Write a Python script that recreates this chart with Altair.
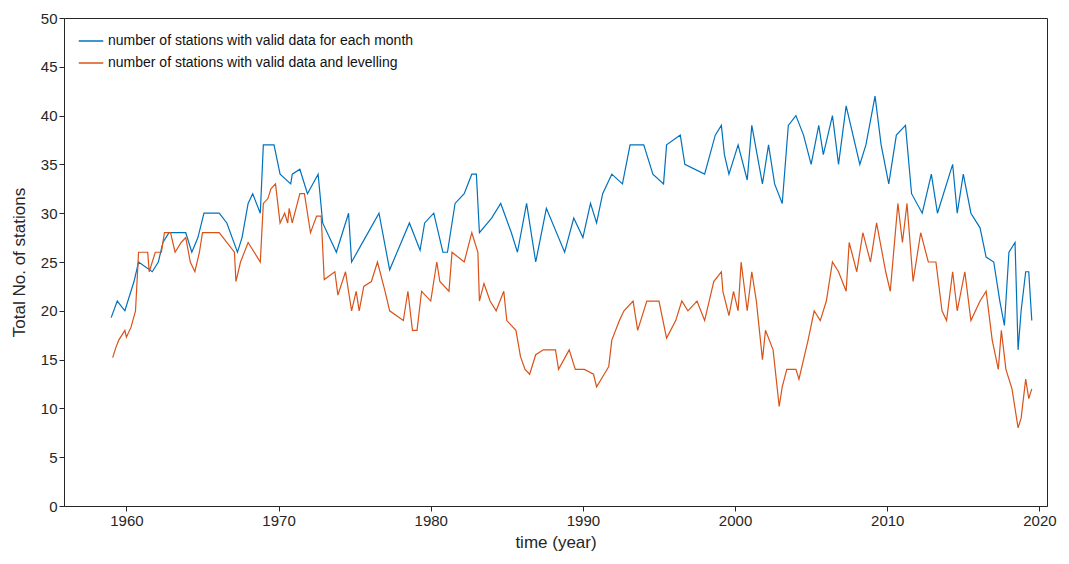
import altair as alt
import pandas as pd

# estimated readings: (year, number of stations)
blue_years = [1959.0, 1959.4, 1959.9, 1960.5, 1960.8, 1961.7, 1962.1, 1962.4, 1962.8, 1963.9,
              1964.3, 1964.7, 1965.1, 1966.1, 1966.6, 1967.3, 1967.6, 1968.0, 1968.3, 1968.8,
              1969.0, 1969.7, 1970.1, 1970.8, 1970.9, 1971.4, 1971.9, 1972.6, 1972.9, 1973.8,
              1974.6, 1974.8, 1975.7, 1976.6, 1977.3, 1978.6, 1979.3, 1979.6, 1980.2, 1980.8,
              1981.1, 1981.6, 1982.2, 1982.7, 1983.0, 1983.2, 1984.0, 1984.6, 1985.3, 1985.7,
              1986.3, 1986.9, 1987.6, 1988.8, 1989.4, 1990.0, 1990.5, 1990.9, 1991.3, 1991.9,
              1992.6, 1993.1, 1994.0, 1994.6, 1995.3, 1995.5, 1996.4, 1996.7, 1998.0, 1998.7,
              1999.1, 1999.3, 1999.6, 2000.2, 2000.8, 2001.1, 2001.8, 2002.2, 2002.6, 2003.1,
              2003.5, 2004.0, 2004.5, 2005.0, 2005.5, 2005.8, 2006.4, 2006.8, 2007.3, 2007.6,
              2008.2, 2008.6, 2009.2, 2009.6, 2010.1, 2010.6, 2011.2, 2011.6, 2012.3, 2012.9,
              2013.3, 2014.3, 2014.6, 2015.0, 2015.5, 2016.1, 2016.5, 2017.0, 2017.4, 2017.7,
              2018.0, 2018.4, 2018.6, 2018.8, 2019.1, 2019.3, 2019.5]
blue_vals = [19.3, 21, 20, 23, 25, 24, 25, 27, 28, 28,
             26, 27.5, 30, 30, 29, 26, 27.5, 31, 32, 30,
             37, 37, 34, 33, 34, 34.5, 32, 34, 29, 26,
             30, 25, 27.5, 30, 24.2, 29, 26.2, 29, 30, 26,
             26, 31, 32, 34, 34, 28, 29.5, 31, 28, 26,
             31, 25, 30.5, 26, 29.5, 27.5, 31, 29, 32, 34,
             33, 37, 37, 34, 33, 37, 38, 35, 34, 38,
             39, 36, 34, 37, 33.4, 39, 33, 37, 33, 31,
             39, 40, 38, 35, 39, 36, 40, 35, 41, 39,
             35, 37, 42, 37, 33, 38, 39, 32, 30, 34,
             30, 35, 30, 34, 30, 28.5, 25.5, 25, 21, 18.5,
             26, 27, 16, 20, 24, 24, 19]

orange_years = [1959.1, 1959.3, 1959.5, 1959.9, 1960.0, 1960.3, 1960.6, 1960.8, 1961.4, 1961.5,
                1961.9, 1962.3, 1962.5, 1962.9, 1963.2, 1963.6, 1963.9, 1964.2, 1964.5, 1964.8,
                1965.0, 1966.1, 1966.6, 1967.1, 1967.2, 1967.5, 1968.0, 1968.8, 1969.0, 1969.3,
                1969.5, 1969.8, 1970.1, 1970.4, 1970.6, 1970.7, 1970.9, 1971.4, 1971.7, 1972.1,
                1972.5, 1972.8, 1973.0, 1973.7, 1973.9, 1974.4, 1974.8, 1975.1, 1975.3, 1975.6,
                1976.1, 1976.5, 1977.0, 1977.3, 1978.2, 1978.5, 1978.8, 1979.1, 1979.4, 1980.0,
                1980.4, 1980.6, 1981.2, 1981.4, 1982.2, 1982.7, 1983.1, 1983.2, 1983.5, 1983.9,
                1984.3, 1984.8, 1985.0, 1985.6, 1985.9, 1986.2, 1986.5, 1986.9, 1987.4, 1988.2,
                1988.4, 1989.1, 1989.5, 1990.1, 1990.7, 1990.9, 1991.4, 1991.7, 1991.9, 1992.4,
                1992.7, 1993.3, 1993.6, 1994.2, 1995.0, 1995.5, 1996.1, 1996.5, 1996.9, 1997.5,
                1998.0, 1998.6, 1999.1, 1999.2, 1999.6, 1999.9, 2000.2, 2000.4, 2000.8, 2001.1,
                2001.4, 2001.6, 2001.8, 2002.0, 2002.5, 2002.9, 2003.1, 2003.4, 2004.0, 2004.2,
                2004.8, 2005.2, 2005.6, 2006.0, 2006.4, 2006.8, 2007.3, 2007.5, 2008.0, 2008.4,
                2008.9, 2009.3, 2009.9, 2010.2, 2010.7, 2011.0, 2011.3, 2011.7, 2012.2, 2012.7,
                2013.2, 2013.6, 2013.9, 2014.3, 2014.6, 2015.1, 2015.5, 2016.1, 2016.5, 2016.9,
                2017.3, 2017.5, 2017.8, 2018.2, 2018.6, 2018.8, 2019.1, 2019.3, 2019.5]
orange_vals = [15.2, 16.2, 17, 18, 17.3, 18.3, 20, 26, 26, 24,
               26, 26, 28, 28, 26, 27, 27.5, 25, 24, 26,
               28, 28, 27, 26, 23, 25, 27, 25, 31, 31.5,
               32.5, 33, 29, 30, 29, 30.5, 29, 32, 32, 28,
               29.7, 29.7, 23.2, 24, 21.6, 24, 20, 22, 20, 22.5,
               23, 25, 22, 20, 19, 22, 18, 18, 22, 21,
               25, 23, 22, 26, 25, 28, 26, 21, 22.8, 21,
               20, 22, 19, 18, 15.3, 14, 13.5, 15.5, 16, 16,
               14, 16, 14, 14, 13.5, 12.2, 13.5, 14.3, 17, 19,
               20, 21, 18, 21, 21, 17.2, 19, 21, 20, 21,
               19, 23, 24, 22, 19.5, 22, 20, 25, 20, 24,
               21, 18, 15, 18, 16, 10.2, 12.2, 14, 14, 13,
               17, 20, 19, 21, 25, 24, 22, 27, 24, 28,
               25, 29, 24, 22, 31, 27, 31, 23, 28, 25,
               25, 20, 19, 24, 20, 24, 19, 21, 22, 17,
               14, 18, 14, 12, 8, 9, 13, 11, 12]

label_blue = "number of stations with valid data for each month"
label_orange = "number of stations with valid data and levelling"

df = pd.concat([
    pd.DataFrame({"year": blue_years, "n": blue_vals, "series": label_blue}),
    pd.DataFrame({"year": orange_years, "n": orange_vals, "series": label_orange}),
])

chart = alt.Chart(df).mark_line(strokeWidth=1.2).encode(
    x=alt.X("year:Q", title="time (year)",
            scale=alt.Scale(domain=[1955.9, 2020.5], nice=False, zero=False),
            axis=alt.Axis(values=[1960, 1970, 1980, 1990, 2000, 2010, 2020], format="d")),
    y=alt.Y("n:Q", title="Total No. of stations",
            scale=alt.Scale(domain=[0, 50], nice=False),
            axis=alt.Axis(values=list(range(0, 51, 5)))),
    color=alt.Color("series:N", sort=[label_blue, label_orange],
                    scale=alt.Scale(domain=[label_blue, label_orange], range=["#0072BD", "#D95319"]),
                    legend=alt.Legend(title=None, orient="none", legendX=14, legendY=10,
                                      symbolType="stroke", symbolSize=600, symbolStrokeWidth=1.5,
                                      labelFontSize=14, labelFont="Liberation Sans", labelColor="#111",
                                      labelLimit=0, rowPadding=2)),
    order="year:Q",
).properties(
    width=983, height=488,
    padding={"left": 56, "top": 10, "right": 14, "bottom": 50},
    autosize=alt.AutoSizeParams(type="none"),
).configure_view(
    stroke="#262626", strokeWidth=1
).configure_axis(
    grid=False, domainColor="#262626", tickColor="#262626", labelColor="#262626",
    titleColor="#262626", labelFont="Liberation Sans", titleFont="Liberation Sans",
    labelFontSize=15, titleFontSize=17, titleFontWeight="normal", tickSize=5
).configure_axisY(titlePadding=12).configure_axisX(titlePadding=6)

chart.save("out.html", embed_options={"renderer": "svg", "actions": False})
